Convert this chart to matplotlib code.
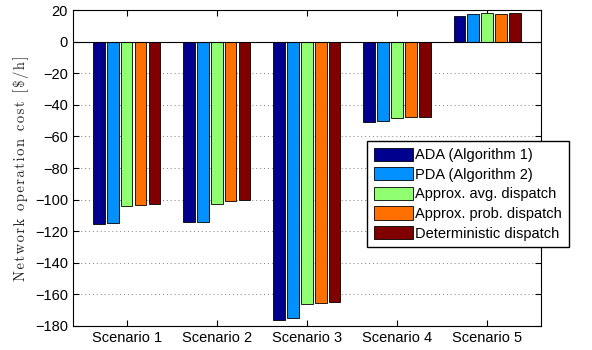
import matplotlib
matplotlib.use("Agg")
import matplotlib.pyplot as plt
import numpy as np

scenarios = ["Scenario 1", "Scenario 2", "Scenario 3", "Scenario 4", "Scenario 5"]
methods = ["ADA (Algorithm 1)", "PDA (Algorithm 2)", "Approx. avg. dispatch",
           "Approx. prob. dispatch", "Deterministic dispatch"]
ada = [-115.5, -114, -176, -51, 16.2]
pda = [-115, -114, -175, -50, 17.3]
avg = [-104, -103, -166, -48.5, 17.9]
prob = [-103.5, -101, -165.5, -48, 17.7]
det = [-103, -100, -165, -47.5, 17.9]
colors = ["#00008f", "#0090ff", "#90ff70", "#ff7000", "#800000"]

plt.rcParams['font.family'] = ['Liberation Sans', 'DejaVu Sans']
fig = plt.figure(figsize=(5.92, 3.5), dpi=100)
ax = fig.add_axes([0.123, 0.069, 0.791, 0.902])

x = np.arange(1, len(scenarios) + 1)
step = 0.155
for i, vals in enumerate([ada, pda, avg, prob, det]):
    ax.bar(x + (i - 2) * step, vals, width=0.125, color=colors[i],
           edgecolor="black", linewidth=0.6, label=methods[i], zorder=3)

ax.axhline(0, color="black", linewidth=0.8, zorder=4)
ax.set_xlim(0.4, 5.6)
ax.set_ylim(-180, 20)
ax.set_yticks(range(-180, 21, 20))
ax.set_xticks(x)
ax.set_xticklabels(scenarios)
ax.yaxis.grid(True, linestyle=(0, (1, 3)), color="gray", linewidth=0.7, zorder=0)
ax.tick_params(direction="in", top=True, right=True, labelsize=10.5, length=4)

# spaced-out serif label, like the original
label = "\u200a".join("Network operation cost [$/h]")
ax.set_ylabel(label, family=["cmr10", "DejaVu Serif"], fontsize=10.5, color="#222222")

ax.legend(loc="upper left", bbox_to_anchor=(0.620, 0.597), bbox_transform=fig.transFigure,
          fancybox=False, edgecolor="black", framealpha=1, fontsize=10.5,
          handlelength=2.67, handleheight=1.0, labelspacing=0.35, borderpad=0.45,
          handletextpad=0.2, borderaxespad=0)

fig.savefig("out.png", dpi=100)
